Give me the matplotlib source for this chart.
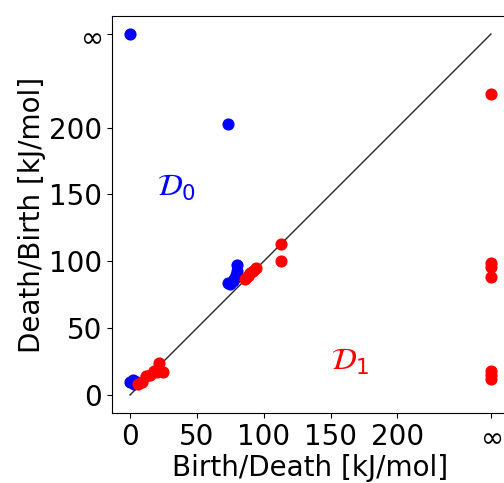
import numpy as np
import matplotlib
matplotlib.use("Agg")
import matplotlib.pyplot as plt

INF = 270  # position used for "infinity"

# D0 (blue): birth, death
d0_birth = [0, 73, 73, 75, 77, 78, 79, 80, 80, 80, 0, 2, 3, 4, 5]
d0_death = [INF, 203, 84, 83, 85, 87, 90, 89, 93, 97, 10, 11, 8, 9, 10]

# D1 (red): birth, death
d1_birth = [INF, INF, INF, INF, INF, INF, INF,
            113, 113, 86, 88, 90, 92, 94,
            6, 9, 12, 15, 18, 20, 22, 25]
d1_death = [225, 99, 96, 88, 18, 15, 12,
            113, 100, 87, 89, 91, 93, 95,
            8, 10, 14, 15, 18, 17, 24, 17]

tick_vals = [0, 50, 100, 150, 200, INF]
tick_labels = ["0", "50", "100", "150", "200", r"$\infty$"]

fig = plt.figure(figsize=(5.04, 4.83), dpi=100)
ax = fig.add_axes([112 / 504, 70 / 483, 397 / 504, 397 / 483])

ax.plot([0, INF], [0, INF], color="black", lw=1, alpha=0.85)
ax.scatter(d0_birth, d0_death, s=60, color="blue", zorder=3)
ax.scatter(d1_birth, d1_death, s=60, color="red", zorder=3)

ax.text(20, 155, r"$\mathcal{D}_0$", color="blue", fontsize=22, va="center")
ax.text(150, 25, r"$\mathcal{D}_1$", color="red", fontsize=22, va="center")

ax.set_xlim(-13.5, 283.5)
ax.set_ylim(-13.5, 283.5)
ax.set_xticks(tick_vals)
ax.set_xticklabels(tick_labels)
ax.set_yticks(tick_vals)
ax.set_yticklabels(tick_labels)
ax.tick_params(labelsize=20)
ax.set_xlabel("Birth/Death [kJ/mol]", fontsize=20, labelpad=2)
ax.set_ylabel("Death/Birth [kJ/mol]", fontsize=20, labelpad=2)

fig.savefig("out.png", dpi=100)
